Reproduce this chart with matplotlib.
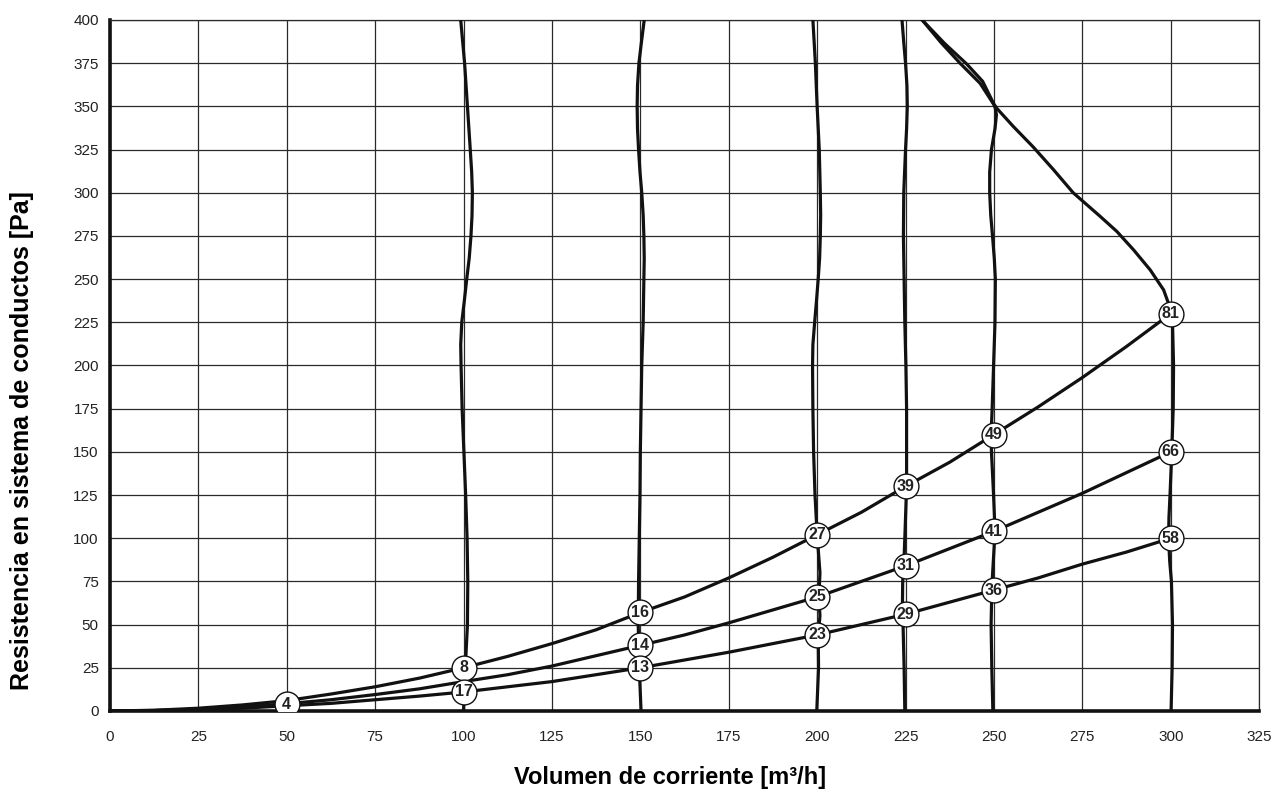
import matplotlib
matplotlib.use("Agg")
import matplotlib.pyplot as plt

plt.rcParams['font.family'] = ['Liberation Sans', 'DejaVu Sans']

# system curves (x = m3/h, y = Pa)
curve_x = [0, 12.5, 25, 37.5, 50, 62.5, 75, 87.5, 100, 112.5, 125, 137.5, 150,
           162.5, 175, 187.5, 200, 212.5, 225, 237.5, 250, 262.5, 275, 287.5, 300]
curve_hi = [0, 0.4, 1.6, 3.5, 6, 9.8, 14, 19, 25, 31.6, 39, 47, 57,
            66, 77, 89, 102, 115, 130, 144, 160, 176, 193, 211, 230]
curve_mid = [0, 0.3, 1.0, 2.3, 4.2, 6.5, 9.5, 12.8, 17, 21, 26, 32, 38,
             44, 51, 58.5, 66, 75, 84, 94, 104, 115, 126, 138, 150]
curve_lo = [0, 0.2, 0.7, 1.6, 3, 4.4, 6.5, 8.6, 11, 14, 17, 21, 25,
            29.5, 34, 39, 44, 50, 56, 63, 70, 77, 85, 92, 100]

# fan lines (nearly vertical): (pressure, flow) pairs
fan_100_y = [0, 25, 50, 75, 100, 125, 150, 175, 200, 212, 225, 237, 250, 262, 275, 287, 300, 312, 325, 350, 375, 400]
fan_100_x = [100, 100.5, 101.1, 101.2, 101, 100.6, 100.1, 99.6, 99.3, 99.2, 99.5, 100.2, 100.9, 101.6, 102.1, 102.4, 102.5, 102.3, 101.9, 101.1, 100.3, 99.2]

fan_150_y = [0, 25, 50, 75, 100, 125, 150, 175, 200, 225, 250, 262, 275, 287, 300, 312, 325, 337, 350, 362, 375, 387, 400]
fan_150_x = [150.2, 149.7, 149.4, 149.5, 149.7, 149.9, 150, 150.2, 150.4, 150.8, 151.0, 151.1, 151, 150.8, 150.4, 149.9, 149.5, 149.2, 149.1, 149.2, 149.6, 150.3, 151.1]

fan_200_y = [0, 25, 44, 55, 66, 80, 102, 125, 150, 175, 200, 212, 225, 237, 250, 262, 275, 287, 300, 325, 350, 375, 400]
fan_200_x = [199.9, 200.4, 200.3, 200.8, 200.5, 200.8, 200, 199.4, 199, 198.8, 198.7, 198.8, 199.3, 199.8, 200.3, 200.7, 200.9, 201.0, 200.9, 200.6, 200, 199.5, 198.8]

fan_225_y = [0, 25, 50, 56, 75, 84, 100, 130, 150, 175, 200, 225, 250, 275, 300, 325, 337, 350, 362, 375, 387, 400]
fan_225_x = [224.8, 224.6, 224.3, 224.1, 224.2, 224.5, 224.8, 225.3, 225.3, 225.3, 225.1, 224.8, 224.6, 224.4, 224.5, 225, 225.3, 225.5, 225.4, 225, 224.5, 224]

fan_250_y = [0, 25, 50, 70, 75, 100, 104, 125, 150, 160, 175, 200, 225, 250, 262, 275, 287, 300, 312, 325, 337, 345, 350]
fan_250_x = [249.7, 249.4, 249.2, 249.4, 249.5, 250.2, 250.3, 249.9, 249.3, 249.2, 249.5, 249.9, 250.3, 250.4, 250.1, 249.6, 249.1, 248.8, 248.8, 249.3, 250.3, 250.7, 250.3]

fan_300_y = [0, 25, 50, 75, 87, 100, 112, 125, 150, 175, 200, 225, 230]
fan_300_x = [300.1, 300.4, 300.5, 300.2, 299.7, 299.4, 299.5, 299.8, 300.3, 300.7, 300.8, 300.5, 300.2]

# upper limit curve
limit_x = [229.7, 235, 240.4, 246.1, 250.3, 255.5, 261.1, 266.9, 272.4, 275.3, 280.1, 284.8, 289.5, 294.2, 298, 300.4]
limit_y = [400, 387, 375, 363.3, 350, 338.3, 326.5, 313.2, 300, 294.8, 286.2, 277.5, 266.9, 255.3, 243.7, 230]
limit2_x = [229.7, 236, 242.3, 246.8, 250.3]
limit2_y = [400, 386.5, 374.5, 364.5, 350]

# labelled points
pt_x = [50, 100, 150, 200, 225, 250, 300,
        100, 150, 200, 225, 250, 300,
        150, 200, 225, 250, 300]
pt_y = [4, 25, 57, 102, 130, 160, 230,
        11, 38, 66, 84, 104, 150,
        25, 44, 56, 70, 100]
pt_lab = ['4', '8', '16', '27', '39', '49', '81',
          '17', '14', '25', '31', '41', '66',
          '13', '23', '29', '36', '58']

x_ticks = list(range(0, 326, 25))
y_ticks = list(range(0, 401, 25))

fig = plt.figure(figsize=(12.77, 7.89), dpi=100)
ax = fig.add_axes([0.0861, 0.0989, 0.8999, 0.8758])

lw = 2.3
for ys in (curve_hi, curve_mid, curve_lo):
    ax.plot(curve_x, ys, color='#111111', lw=lw, solid_capstyle='round', zorder=3)
for xs, ys in ((fan_100_x, fan_100_y), (fan_150_x, fan_150_y), (fan_200_x, fan_200_y),
               (fan_225_x, fan_225_y), (fan_250_x, fan_250_y), (fan_300_x, fan_300_y)):
    ax.plot(xs, ys, color='#111111', lw=lw, solid_joinstyle='round', zorder=3)
ax.plot(limit_x, limit_y, color='#111111', lw=lw, solid_joinstyle='round', zorder=3)
ax.plot(limit2_x, limit2_y, color='#111111', lw=lw, solid_joinstyle='round', zorder=3)

ax.scatter(pt_x, pt_y, s=320, facecolor='white', edgecolor='#111111', linewidths=1.0, zorder=4)
for x, y, t in zip(pt_x, pt_y, pt_lab):
    ax.text(x, y, t, ha='center', va='center', fontsize=11.5, fontweight='bold',
            color='#222222', zorder=5)

ax.set_xlim(0, 325)
ax.set_ylim(0, 400)
ax.set_xticks(x_ticks)
ax.set_yticks(y_ticks)
ax.grid(True, color='#2a2a2a', lw=0.9)
ax.set_axisbelow(True)
ax.tick_params(length=0, labelsize=11, colors='#222222')
ax.tick_params(axis='x', pad=14)
ax.tick_params(axis='y', pad=8)

for s in ('top', 'right'):
    ax.spines[s].set_linewidth(0.9)
    ax.spines[s].set_color('#2a2a2a')
for s in ('left', 'bottom'):
    ax.spines[s].set_linewidth(2.6)
    ax.spines[s].set_color('#111111')

ax.set_xlabel('Volumen de corriente [m³/h]', fontsize=17, fontweight='bold')
ax.set_ylabel('Resistencia en sistema de conductos [Pa]', fontsize=18, fontweight='bold')
ax.xaxis.set_label_coords(0.487, -0.079)
ax.yaxis.set_label_coords(-0.066, 0.392)

fig.savefig('out.png', dpi=100)
